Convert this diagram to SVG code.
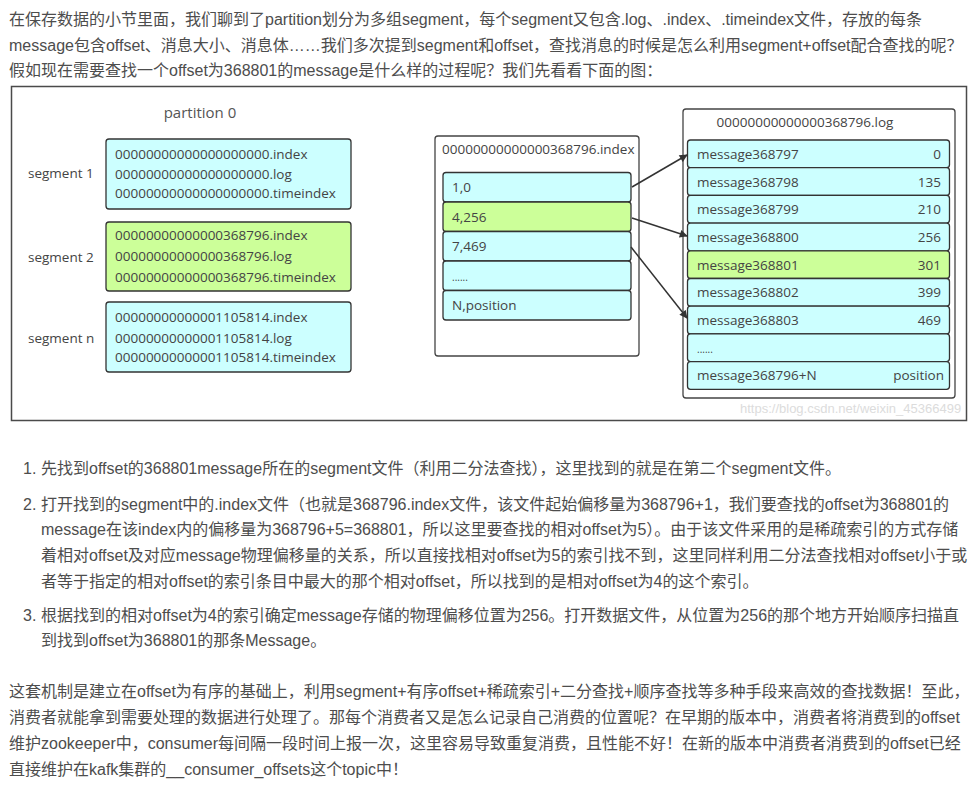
<svg xmlns="http://www.w3.org/2000/svg" width="979" height="785" viewBox="0 0 979 785">
<style>
.p{font-family:"Liberation Sans","Noto Sans CJK SC",sans-serif;font-size:16px;fill:#4d4d4d}
.d{font-family:"Open Sans","Noto Sans",sans-serif;font-size:13.5px;fill:#444}
.lbl{font-family:"Open Sans","Noto Sans",sans-serif;font-size:13.5px;fill:#444}
.cy{fill:#ccffff;stroke:#333;stroke-width:1.3}
.gr{fill:#ccff99;stroke:#333;stroke-width:1.3}
.box{fill:#fff;stroke:#444;stroke-width:1.3}
.con{stroke:#333;stroke-width:1.5;fill:none;marker-end:url(#ah)}
.wm{font-family:"Liberation Sans",sans-serif;font-size:13px;fill:#dcdcdc}
</style>
<defs>
<marker id="ah" viewBox="0 0 10 10" refX="9" refY="5" markerWidth="9" markerHeight="8" markerUnits="userSpaceOnUse" orient="auto"><path d="M0,0 L10,5 L0,10 z" fill="#333"/></marker>
</defs>
<rect width="979" height="785" fill="#fff"/>
<g id="intro">
<text class="p" x="9" y="25">在保存数据的小节里面，我们聊到了partition划分为多组segment，每个segment又包含.log、.index、.timeindex文件，存放的每条</text>
<text class="p" x="9" y="51">message包含offset、消息大小、消息体……我们多次提到segment和offset，查找消息的时候是怎么利用segment+offset配合查找的呢？</text>
<text class="p" x="9" y="76">假如现在需要查找一个offset为368801的message是什么样的过程呢？我们先看看下面的图：</text>
</g>
<g id="frame">
<rect x="11.5" y="86.5" width="955" height="334" fill="#fff" stroke="#4a4a4a" stroke-width="1.5"/>
<text class="wm" x="740" y="413">https://blog.csdn.net/weixin_45366499</text>
</g>
<g id="partition">
<text x="200" y="118" text-anchor="middle" style="font-family:'Open Sans','Noto Sans',sans-serif;font-size:15px;fill:#555">partition 0</text>
</g>
<g id="segment1">
<text class="lbl" x="28" y="178">segment 1</text>
<rect class="cy" x="106" y="139" width="245" height="70" rx="3"/>
<text class="d" x="115" y="159">00000000000000000000.index</text>
<text class="d" x="115" y="179">00000000000000000000.log</text>
<text class="d" x="115" y="198">00000000000000000000.timeindex</text>
</g>
<g id="segment2">
<text class="lbl" x="28" y="262">segment 2</text>
<rect class="gr" x="106" y="222" width="245" height="69" rx="3"/>
<text class="d" x="115" y="240">00000000000000368796.index</text>
<text class="d" x="115" y="261">00000000000000368796.log</text>
<text class="d" x="115" y="282">00000000000000368796.timeindex</text>
</g>
<g id="segmentn">
<text class="lbl" x="28" y="343">segment n</text>
<rect class="cy" x="106" y="302" width="245" height="70" rx="3"/>
<text class="d" x="115" y="322">00000000000001105814.index</text>
<text class="d" x="115" y="343">00000000000001105814.log</text>
<text class="d" x="115" y="362">00000000000001105814.timeindex</text>
</g>
<g id="indexfile">
<rect class="box" x="435" y="136" width="204" height="220" rx="3"/>
<text class="d" x="442" y="154">00000000000000368796.index</text>
<rect class="cy" x="443" y="172.5" width="188" height="29.5" rx="3"/>
<text class="d" x="452" y="192">1,0</text>
<rect class="gr" x="443" y="202" width="188" height="29.5" rx="3"/>
<text class="d" x="452" y="221.5">4,256</text>
<rect class="cy" x="443" y="231.5" width="188" height="29.5" rx="3"/>
<text class="d" x="452" y="251">7,469</text>
<rect class="cy" x="443" y="261" width="188" height="29.5" rx="3"/>
<text class="d" x="452" y="281" style="font-size:10px">......</text>
<rect class="cy" x="443" y="290.5" width="188" height="29.5" rx="3"/>
<text class="d" x="452" y="310">N,position</text>
</g>
<g id="logfile">
<rect class="box" x="683" y="109" width="272" height="289" rx="3"/>
<text class="d" x="805" y="127" text-anchor="middle">00000000000000368796.log</text>
<rect class="cy" x="687.5" y="140" width="262" height="27.7" rx="3"/>
<text class="d" x="697" y="158.8">message368797</text><text class="d" x="941" y="158.8" text-anchor="end">0</text>
<rect class="cy" x="687.5" y="167.7" width="262" height="27.7" rx="3"/>
<text class="d" x="697" y="186.5">message368798</text><text class="d" x="941" y="186.5" text-anchor="end">135</text>
<rect class="cy" x="687.5" y="195.4" width="262" height="27.7" rx="3"/>
<text class="d" x="697" y="214.2">message368799</text><text class="d" x="941" y="214.2" text-anchor="end">210</text>
<rect class="cy" x="687.5" y="223.1" width="262" height="27.7" rx="3"/>
<text class="d" x="697" y="241.9">message368800</text><text class="d" x="941" y="241.9" text-anchor="end">256</text>
<rect class="gr" x="687.5" y="250.8" width="262" height="27.7" rx="3"/>
<text class="d" x="697" y="269.6">message368801</text><text class="d" x="941" y="269.6" text-anchor="end">301</text>
<rect class="cy" x="687.5" y="278.5" width="262" height="27.7" rx="3"/>
<text class="d" x="697" y="297.3">message368802</text><text class="d" x="941" y="297.3" text-anchor="end">399</text>
<rect class="cy" x="687.5" y="306.2" width="262" height="27.7" rx="3"/>
<text class="d" x="697" y="325">message368803</text><text class="d" x="941" y="325" text-anchor="end">469</text>
<rect class="cy" x="687.5" y="333.9" width="262" height="27.7" rx="3"/>
<text class="d" x="697" y="353" style="font-size:10px">......</text>
<rect class="cy" x="687.5" y="361.6" width="262" height="27.7" rx="3"/>
<text class="d" x="697" y="380.4">message368796+N</text><text class="d" x="944" y="380.4" text-anchor="end">position</text>
</g>
<g id="connectors">
<line class="con" x1="632" y1="187" x2="687" y2="155"/>
<line class="con" x1="632" y1="218" x2="687" y2="236"/>
<line class="con" x1="631" y1="247" x2="687" y2="318"/>
</g>
<g id="steps">
<text class="p" x="23" y="474">1.</text>
<text class="p" x="41" y="474">先找到offset的368801message所在的segment文件（利用二分法查找），这里找到的就是在第二个segment文件。</text>
<text class="p" x="23" y="509.5">2.</text>
<text class="p" x="41" y="509.5">打开找到的segment中的.index文件（也就是368796.index文件，该文件起始偏移量为368796+1，我们要查找的offset为368801的</text>
<text class="p" x="41" y="535">message在该index内的偏移量为368796+5=368801，所以这里要查找的相对offset为5）。由于该文件采用的是稀疏索引的方式存储</text>
<text class="p" x="41" y="561">着相对offset及对应message物理偏移量的关系，所以直接找相对offset为5的索引找不到，这里同样利用二分法查找相对offset小于或</text>
<text class="p" x="41" y="586.5">者等于指定的相对offset的索引条目中最大的那个相对offset，所以找到的是相对offset为4的这个索引。</text>
<text class="p" x="23" y="620.5">3.</text>
<text class="p" x="41" y="620.5">根据找到的相对offset为4的索引确定message存储的物理偏移位置为256。打开数据文件，从位置为256的那个地方开始顺序扫描直</text>
<text class="p" x="41" y="646">到找到offset为368801的那条Message。</text>
</g>
<g id="summary">
<text class="p" x="9" y="696.5">这套机制是建立在offset为有序的基础上，利用segment+有序offset+稀疏索引+二分查找+顺序查找等多种手段来高效的查找数据！至此，</text>
<text class="p" x="9" y="722.5">消费者就能拿到需要处理的数据进行处理了。那每个消费者又是怎么记录自己消费的位置呢？在早期的版本中，消费者将消费到的offset</text>
<text class="p" x="9" y="748.5">维护zookeeper中，consumer每间隔一段时间上报一次，这里容易导致重复消费，且性能不好！在新的版本中消费者消费到的offset已经</text>
<text class="p" x="9" y="774.5">直接维护在kafk集群的__consumer_offsets这个topic中！</text>
</g>
</svg>
